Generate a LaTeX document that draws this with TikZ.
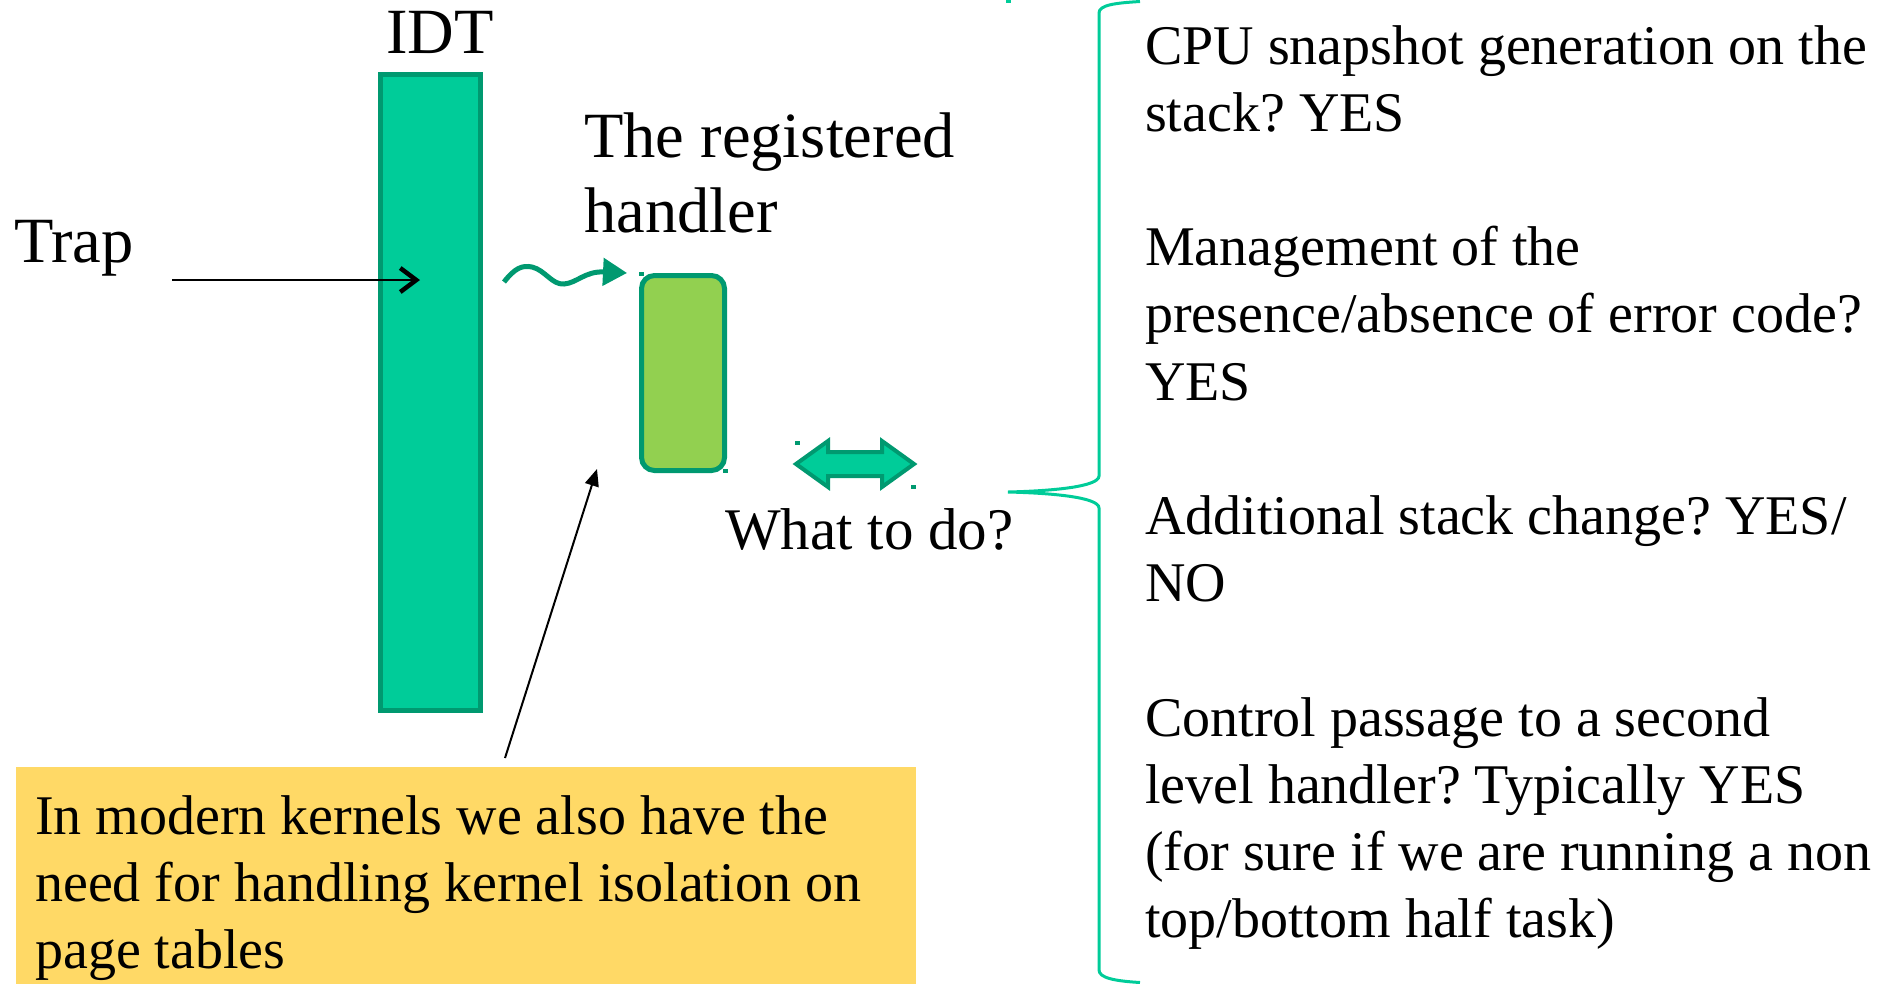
\documentclass[tikz,border=0pt]{standalone}
\usepackage{fontspec}
\setmainfont{Liberation Serif}
\frenchspacing
\usetikzlibrary{arrows.meta}
\definecolor{idtfill}{RGB}{0,204,153}
\definecolor{darkgreen}{RGB}{0,153,112}
\definecolor{handlerfill}{RGB}{146,208,80}
\definecolor{yellowfill}{RGB}{255,217,102}
\begin{document}
\begin{tikzpicture}[x=1pt,y=-1pt,
  big/.style={font=\fontsize{64.5}{75}\selectfont, inner sep=0pt, anchor=base west},
  body/.style={font=\fontsize{56}{67}\selectfont, inner sep=0pt, anchor=base west},
  idtbox/.style={draw=darkgreen, fill=idtfill, line width=5pt, inner sep=0pt, minimum width=100pt, minimum height=636pt},
  handlerbox/.style={draw=darkgreen, fill=handlerfill, line width=5pt, rounded corners=13pt, inner sep=0pt, minimum width=83pt, minimum height=195pt},
  dot/.style={fill=darkgreen, inner sep=0pt, minimum width=5pt, minimum height=4pt},
  bracecol/.style={draw=idtfill, line width=3pt}
]
\useasboundingbox (0,0) rectangle (1893,983);

% IDT
\node[idtbox] (idt) at (430.5,392.5) {};
\node[big] (idtlabel) at (386,53) {IDT};

% Trap
\node[big] (trap) at (14,262) {Trap};
\coordinate (trapS) at (172,280);
\coordinate (trapE) at (420,280);
\draw[line width=1.8pt, -{Straight Barb[length=16pt,width=24pt,line width=4.5pt]}] (trapS) -- (trapE);

% registered handler
\node[big] (hl1) at (584,157) {The registered};
\node[big] (hl2) at (584,232) {handler};
\node[handlerbox] (handler) at (683,373) {};
\node[dot] (d1) at (641,273.5) {};
\node[dot] (d2) at (725.5,471) {};

% wavy arrow
\coordinate (wS) at (504,282);
\coordinate (wE) at (627,273);
\draw[darkgreen, line width=5pt, -{Triangle[length=24pt,width=27pt]}]
  (wS) .. controls (515,268) and (522,265) .. (532,267)
  .. controls (545,270) and (552,285) .. (564,284)
  .. controls (577,283) and (585,271) .. (wE);

% double arrow
\draw[draw=darkgreen, fill=idtfill, line width=4pt, line join=miter]
  (796,464) -- (828,441) -- (828,452) -- (882,452) -- (882,441) -- (914,464)
  -- (882,487) -- (882,476) -- (828,476) -- (828,487) -- cycle;
\node[dot] (d3) at (797,443) {};
\node[dot] (d4) at (913,487) {};

% What to do
\node[font=\fontsize{59}{70}\selectfont, inner sep=0pt, anchor=base west] (what) at (725,549) {What to do?};

% brace
\coordinate (braceTip) at (1008,492);
\draw[bracecol] (1140,1.5) .. controls (1115,3) and (1099,5) .. (1099,13) -- (1099,476)
  .. controls (1099,487) and (1050,491) .. (braceTip)
  .. controls (1050,493) and (1099,497) .. (1099,508) -- (1099,970)
  .. controls (1099,978) and (1115,981) .. (1140,982.5);
\node[fill=idtfill, inner sep=0pt, minimum width=5pt, minimum height=3pt] (topmark) at (1008,1.5) {};

% right text
\node[body] (r1)  at (1145,64)    {CPU snapshot generation on the};
\node[body] (r2)  at (1145,131.2) {stack? YES};
\node[body] (r3)  at (1145,265.6) {Management of the};
\node[body] (r4)  at (1145,332.8) {presence/absence of error code?};
\node[body] (r5)  at (1145,400)   {YES};
\node[body] (r6)  at (1145,534.4) {Additional stack change? YES/};
\node[body] (r7)  at (1145,601.6) {NO};
\node[body] (r8)  at (1145,736)   {Control passage to a second};
\node[body] (r9)  at (1145,803.2) {level handler? Typically YES};
\node[body] (r10) at (1145,870.4) {(for sure if we are running a non};
\node[body] (r11) at (1145,937.6) {top/bottom half task)};

% yellow box
\node[fill=yellowfill, inner sep=0pt, minimum width=900pt, minimum height=220pt, anchor=north west] (ybox) at (16,767) {};
\node[body] (y1) at (35,834) {In modern kernels we also have the};
\node[body] (y2) at (35,901) {need for handling kernel isolation on};
\node[body] (y3) at (35,968) {page tables};

% arrow from yellow box
\coordinate (aS) at (505,758);
\coordinate (aE) at (597,469);
\draw[line width=2pt, -{Triangle[length=17pt,width=14pt]}] (aS) -- (aE);
\end{tikzpicture}
\end{document}
